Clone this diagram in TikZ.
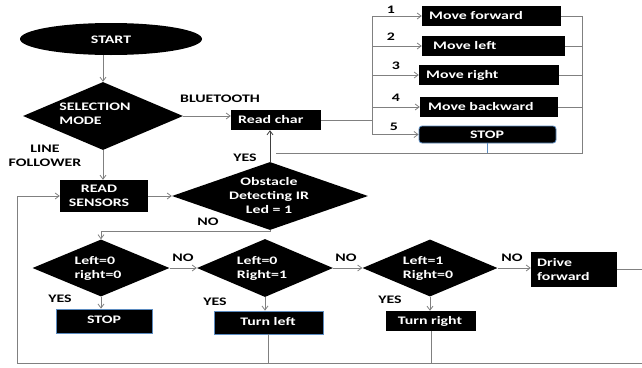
\documentclass[tikz,border=0pt]{standalone}
\usepackage{fontspec}
\setmainfont{Carlito}[FakeStretch=1.38]
\usetikzlibrary{shapes.geometric,arrows.meta}
\definecolor{lncol}{HTML}{808080}
\definecolor{dkcol}{HTML}{404040}
\definecolor{bbcol}{HTML}{5B8BC0}
\begin{document}
\begin{tikzpicture}[x=1pt,y=-1pt,
  font=\fontsize{11.5}{14}\selectfont\bfseries,
  dia/.style={diamond,fill=black,inner sep=0pt},
  box/.style={rectangle,fill=black,inner sep=0pt},
  bbox/.style={box,draw=bbcol,line width=0.8pt},
  wt/.style={text=white,align=left,inner sep=0pt},
  wtc/.style={text=white,align=center,inner sep=0pt},
  lbl/.style={inner sep=0pt,align=center},
  ln/.style={draw=lncol,line width=0.8pt},
  arr/.style={ln,-{Straight Barb[length=4pt,width=6pt]}}]
\useasboundingbox (0,0) rectangle (642,367);

% --- top part
\node[ellipse,fill=black,minimum width=182pt,minimum height=32pt,inner sep=0pt] (start) at (111,39) {};
\node[wtc] (starttxt) at (111,40) {START};

\node[dia,minimum width=160pt,minimum height=68pt] (sel) at (103,116) {};
\node[wt] (seltxt) at (95,114) {SELECTION\\MODE};

\node[box,minimum width=90pt,minimum height=20pt] (rc) at (276,120) {};
\node[wt,anchor=west] (rctxt) at (238,120) {Read char};

\node[lbl] (bt) at (220,99) {BLUETOOTH};
\node[lbl] (lf) at (45,156) {LINE\\FOLLOWER};
\node[lbl] (yes0) at (245,158) {YES};

% --- command boxes
\node[box,minimum width=139pt,minimum height=20pt] (mf) at (491.5,16) {};
\node[wt,anchor=west] (mftxt) at (429,16) {Move forward};
\node[box,minimum width=143pt,minimum height=20pt] (ml) at (493.5,46) {};
\node[wt,anchor=west] (mltxt) at (433,46) {Move left};
\node[box,minimum width=140pt,minimum height=20pt] (mr) at (489,75) {};
\node[wt,anchor=west] (mrtxt) at (426,75) {Move right};
\node[box,minimum width=138pt,minimum height=20pt] (mb) at (489,107) {};
\node[wt,anchor=west] (mbtxt) at (428,107) {Move backward};
\node[box,draw=bbcol,line width=0.8pt,rounded corners=3pt,minimum width=137pt,minimum height=17pt] (st1) at (487.5,134.5) {};
\node[wtc] (st1txt) at (487,134.5) {STOP};

\node[lbl] (n1) at (391,10) {1};
\node[lbl] (n2) at (391,37) {2};
\node[lbl] (n3) at (396,66) {3};
\node[lbl] (n4) at (396,98) {4};
\node[lbl] (n5) at (394,127) {5};

\coordinate (bus) at (372,121);
\coordinate (bustop) at (372,16);
\coordinate (busbot) at (372,134.5);
\coordinate (rtop) at (582,16);
\coordinate (rbot) at (582,153);

\draw[ln] (rc.east) -- (rc.east -| bus);
\draw[ln] (bustop) -- (busbot);
\draw[arr] (bustop) -- (mf.west);
\draw[arr] (bus |- ml.west) -- (ml.west);
\draw[arr] (bus |- mr.west) -- (mr.west);
\draw[arr] (bus |- mb.west) -- (mb.west);
\draw[arr] (busbot) -- (st1.west);

\draw[ln] (mf.east) -- (rtop);
\draw[ln] (ml.east) -- (ml.east -| rtop);
\draw[ln] (mr.east) -- (mr.east -| rtop);
\draw[ln] (mb.east) -- (mb.east -| rtop);
\draw[ln] (rtop) -- (rbot) -- (rbot -| rc.south);
\draw[draw=bbcol,line width=0.8pt] (st1.south) -- (st1.south |- rbot);

% --- main flow
\draw[arr] (sel.north |- start.south) -- (sel.north);
\draw[arr] (sel.east) -- (sel.east -| rc.west);

\node[box,minimum width=88pt,minimum height=32pt] (rs) at (104,196) {};
\node[wtc] (rstxt) at (99,196) {READ\\SENSORS};

\node[dia,minimum width=196pt,minimum height=68pt] (obs) at (270,196) {};
\node[wtc] (obstxt) at (269,196) {Obstacle\\Detecting IR\\Led = 1};

\draw[arr] (sel.south) -- (sel.south |- rs.north);
\draw[arr] (rs.east) -- (obs.west);
\draw[ln,draw=dkcol,-{Straight Barb[length=4pt,width=6pt]}] (obs.north) -- (obs.north |- rc.south);

\node[dia,minimum width=137pt,minimum height=57pt] (d1) at (101,268) {};
\node[wt] (d1txt) at (98,268) {Left=0\\right=0};
\node[dia,minimum width=136pt,minimum height=58pt] (d2) at (265,268) {};
\node[wt] (d2txt) at (262,268) {Left=0\\Right=1};
\node[dia,minimum width=135pt,minimum height=57pt] (d3) at (430,268) {};
\node[wt] (d3txt) at (428,268) {Left=1\\Right=0};

\node[bbox,minimum width=96pt,minimum height=24pt] (stop2) at (104,321) {};
\node[wtc] (stop2txt) at (104,320) {STOP};
\node[bbox,minimum width=109pt,minimum height=23pt] (tl) at (268.5,322.5) {};
\node[wtc] (tltxt) at (268,322) {Turn left};
\node[box,minimum width=90pt,minimum height=20pt] (tr) at (431,321) {};
\node[wtc] (trtxt) at (430,321) {Turn right};
\node[box,minimum width=86pt,minimum height=35pt] (df) at (574,269.5) {};
\node[wt,anchor=west] (dftxt) at (537,269.5) {Drive\\forward};

\node[lbl] (no0) at (208,222) {NO};
\node[lbl] (no1) at (183,258) {NO};
\node[lbl] (no2) at (346,258) {NO};
\node[lbl] (no3) at (512,258) {NO};
\node[lbl] (yes1) at (60,299) {YES};
\node[lbl] (yes2) at (215,302) {YES};
\node[lbl] (yes3) at (390,300) {YES};

\draw[arr] (obs.south) -- (obs.south |- 0,231) -| (d1.north);
\draw[arr] (d1.east) -- (d2.west);
\draw[arr] (d2.east) -- (d3.west);
\draw[arr] (d3.east) -- (d3.east -| df.west);
\draw[arr] (d1.south) -- (d1.south |- stop2.north);
\draw[arr] (d2.south) -- (d2.south |- tl.north);
\draw[arr] (d3.south) -- (d3.south |- tr.north);

\coordinate (lp) at (17,363);
\coordinate (re) at (642,363);
\draw[arr] (lp) |- (rs.west);
\draw[ln] (lp) -- (re);
\draw[ln] (tl.south) -- (tl.south |- re);
\draw[ln] (tr.south) -- (tr.south |- re);
\draw[ln] (df.east) -- (df.east -| re);
\end{tikzpicture}
\end{document}
